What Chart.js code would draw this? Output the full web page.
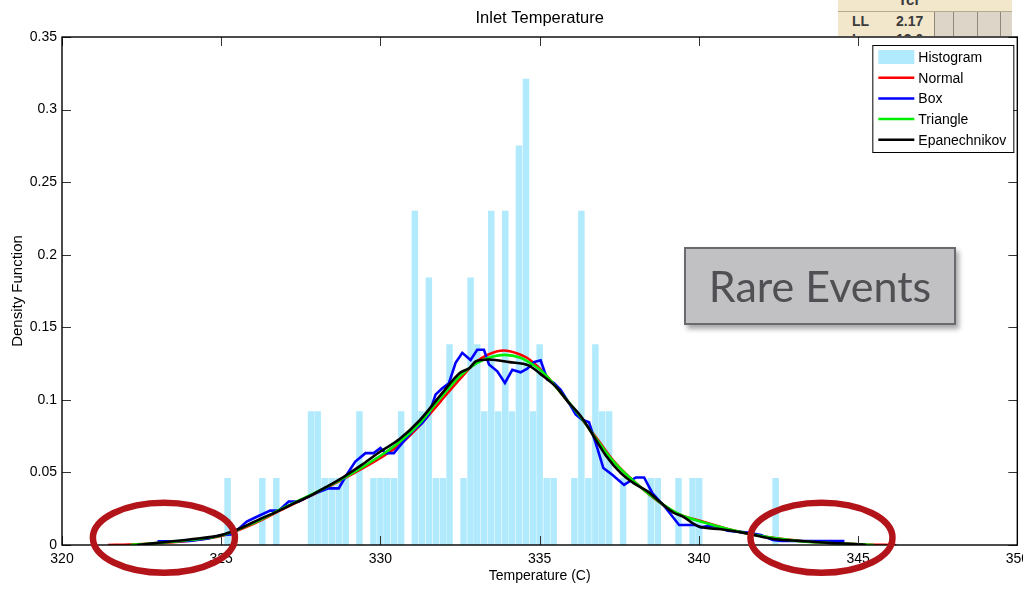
<!DOCTYPE html>
<html>
<head>
<meta charset="utf-8">
<script src="https://cdn.jsdelivr.net/npm/chart.js@4.4.0/dist/chart.umd.min.js"></script>
<style>
  html, body { margin: 0; padding: 0; background: #fff; overflow: hidden; }
  #wrap { position: relative; width: 1023px; height: 599px; overflow: hidden; }
  #chart { position: absolute; left: 0; top: 0; }
  #tbl { position: absolute; left: 838px; top: 0; width: 174px; height: 36px; overflow: hidden;
         background: #f2e6cb; font-family: 'Liberation Sans', Arial, sans-serif; color: #3a3a3a; font-weight: bold; }
  #tbl .hd { position: absolute; left: 60px; top: -9px; font-size: 15px; }
  #tbl .ln { position: absolute; left: 0; top: 11px; width: 174px; height: 1px; background: #b5aa92; }
  #tbl .cells { position: absolute; left: 96px; top: 12px; width: 78px; height: 30px; background: #ddd6c8; }
  #tbl .v { position: absolute; top: 12px; width: 1px; height: 30px; background: #8f8878; }
  #tbl .t { position: absolute; font-size: 14px; }
  #rare { position: absolute; left: 684px; top: 247px; width: 268px; height: 74px;
          background: #c1c1c3; border: 2px solid #6a6a6e; box-shadow: 3px 4px 5px rgba(0,0,0,0.35);
          font-family: Lato, 'Open Sans', sans-serif; font-size: 43px; color: #4f4f54;
          text-align: center; line-height: 74px; }
</style>
</head>
<body>
<div id="wrap">
  <canvas id="chart" width="1035" height="599"></canvas>
  <div id="tbl">
    <div class="hd">Tcl</div>
    <div class="ln"></div>
    <div class="cells"></div>
    <div class="v" style="left:96px"></div>
    <div class="v" style="left:115px"></div>
    <div class="v" style="left:139px"></div>
    <div class="v" style="left:162px"></div>
    <div class="t" style="left:14px; top:13px">LL</div>
    <div class="t" style="left:58px; top:13px">2.17</div>
    <div class="t" style="left:14px; top:31px">L</div>
    <div class="t" style="left:58px; top:31px">13.0</div>
  </div>
  <div id="rare">Rare Events</div>
</div>
<script>
// histogram bins (centres) and density heights
const binCenters = [325.20, 326.29, 326.73, 327.82, 328.03, 328.25, 328.47, 328.69, 328.91, 329.34,
  329.78, 330.00, 330.21, 330.43, 330.65, 331.08, 331.30, 331.52, 331.74, 331.96,
  332.17, 332.61, 332.83, 333.04, 333.26, 333.48, 333.70, 333.92, 334.13, 334.35,
  334.57, 334.79, 335.00, 335.22, 335.44, 336.09, 336.31, 336.53, 336.75, 336.96,
  337.18, 337.62, 338.49, 338.71, 339.36, 339.80, 340.01, 342.41];
const histDensity = [0.046, 0.046, 0.046, 0.092, 0.092, 0.046, 0.046, 0.046, 0.046, 0.092,
  0.046, 0.046, 0.046, 0.046, 0.092, 0.230, 0.092, 0.184, 0.046, 0.046,
  0.138, 0.046, 0.184, 0.138, 0.092, 0.230, 0.092, 0.230, 0.092, 0.275,
  0.321, 0.092, 0.138, 0.046, 0.046, 0.046, 0.230, 0.046, 0.138, 0.092,
  0.092, 0.046, 0.046, 0.046, 0.046, 0.046, 0.046, 0.046];

const normalX = [321.44, 322.1, 323, 324, 325, 326, 327, 328, 329, 330, 330.6, 331.26, 331.89, 332.52, 333.0,
  333.36, 333.88, 334.3, 334.6, 335.03, 335.66, 336.29, 336.71, 337.34, 337.97, 338.8, 339.43, 340.06,
  341, 342, 343, 344, 345, 346.2];
const normalY = [0, 0.0003, 0.0012, 0.003, 0.0062, 0.0145, 0.0255, 0.036, 0.0475, 0.060, 0.069, 0.083, 0.099, 0.115, 0.126,
  0.131, 0.134, 0.132, 0.129, 0.121, 0.105, 0.0875, 0.076, 0.0575, 0.0437, 0.0288, 0.0207, 0.0165,
  0.0105, 0.006, 0.0032, 0.0015, 0.0005, 0];

const boxX = [323.0, 324.0, 324.6, 325.0, 325.3, 325.45, 325.8, 326.17, 326.54, 326.8, 327.12, 327.43, 327.96,
  328.37, 328.69, 328.9, 329.21, 329.53, 329.79, 330.0, 330.16, 330.42, 330.68, 331.0, 331.31, 331.52,
  331.73, 331.94, 332.15, 332.36, 332.57, 332.83, 333.04, 333.25, 333.41, 333.67, 333.91, 334.14, 334.4,
  334.61, 334.82, 335.03, 335.24, 335.45, 335.66, 335.92, 336.13, 336.34, 336.55, 336.81, 337.0, 337.29,
  337.65, 338.02, 338.28, 338.54, 338.96, 339.38, 339.9, 340.06, 340.27, 340.59, 340.9, 341.53, 341.95,
  342.32, 342.58, 344.57];
const boxY = [0.0025, 0.0028, 0.0045, 0.0069, 0.0072, 0.0092, 0.0161, 0.020, 0.0237, 0.0237, 0.030, 0.030, 0.0357,
  0.039, 0.039, 0.047, 0.0575, 0.0633, 0.0633, 0.0668, 0.0633, 0.0633, 0.0702, 0.0783, 0.084, 0.0898,
  0.1036, 0.108, 0.1115, 0.1255, 0.1324, 0.1275, 0.1345, 0.1345, 0.1243, 0.1197, 0.1117, 0.1207, 0.119,
  0.1215, 0.126, 0.1273, 0.114, 0.1115, 0.107, 0.0979, 0.090, 0.0863, 0.0845, 0.0668, 0.053, 0.0483,
  0.0414, 0.0465, 0.0465, 0.0357, 0.0255, 0.0138, 0.0138, 0.0122, 0.0131, 0.0128, 0.0099, 0.0085, 0.0069,
  0.0035, 0.0028, 0.0028];

const triangleX = [322.14, 323, 324, 325, 326, 327, 328, 329, 330, 330.6, 331.26, 331.89, 332.52, 333.0, 333.4,
  333.9, 334.4, 334.8, 335.1, 335.7, 336.3, 336.7, 337.3, 338.0, 338.8, 339.4, 340.0, 341, 342, 343, 344, 345, 345.5];
const triangleY = [0, 0.0013, 0.0034, 0.0065, 0.015, 0.026, 0.0365, 0.048, 0.0615, 0.071, 0.0845, 0.1015, 0.117, 0.125, 0.129,
  0.131, 0.129, 0.124, 0.119, 0.104, 0.0878, 0.0755, 0.058, 0.043, 0.029, 0.021, 0.0165, 0.0105, 0.006, 0.003, 0.0015, 0.0005, 0];

const epanX = [322.35, 323, 324, 325, 325.6, 326.2, 326.75, 327.3, 327.8, 328.3, 328.85, 329.4, 330, 330.6, 331.25,
  331.9, 332.5, 332.8, 333.0, 333.4, 334.05, 334.65, 335.05, 335.5, 335.9, 336.3, 336.7, 337.1, 337.55, 337.95,
  338.4, 338.8, 339.2, 339.5, 339.85, 340.0, 340.7, 341.5, 342.4, 343.2, 344.0, 344.9, 345.25];
const epanY = [0, 0.0015, 0.0038, 0.0068, 0.0115, 0.0177, 0.023, 0.0288, 0.034, 0.040, 0.047, 0.055, 0.0644, 0.073, 0.0863,
  0.1036, 0.1186, 0.122, 0.1266, 0.1278, 0.126, 0.1238, 0.1174, 0.1093, 0.0985, 0.0886, 0.0748, 0.061, 0.0495, 0.0426,
  0.0368, 0.0292, 0.0223, 0.0196, 0.0143, 0.0127, 0.0108, 0.008, 0.004, 0.0028, 0.0016, 0.0007, 0];

const xTicks = [320, 325, 330, 335, 340, 345, 350];
const xTickLabels = ['320', '325', '330', '335', '340', '345', '350'];
const yTicks = [0, 0.05, 0.1, 0.15, 0.2, 0.25, 0.3, 0.35];
const yTickLabels = ['0', '0.05', '0.1', '0.15', '0.2', '0.25', '0.3', '0.35'];

// centres of the two "rare events" circles, in temperature units
const rareCenters = [323.2, 343.85];

const toPts = (xs, ys) => xs.map((x, i) => ({ x: x, y: ys[i] }));

Chart.defaults.font.family = "'Liberation Sans', Arial, sans-serif";
Chart.defaults.font.size = 14;
Chart.defaults.color = '#000';

const decorations = {
  id: 'decorations',
  afterDraw(chart) {
    const { ctx, chartArea: a, scales: { x, y } } = chart;
    ctx.save();

    // inward ticks on all four sides
    ctx.strokeStyle = '#333';
    ctx.lineWidth = 1;
    ctx.beginPath();
    xTicks.forEach(v => {
      const px = Math.round(x.getPixelForValue(v)) + 0.5;
      ctx.moveTo(px, a.bottom); ctx.lineTo(px, a.bottom - 9);
      ctx.moveTo(px, a.top); ctx.lineTo(px, a.top + 9);
    });
    yTicks.forEach(v => {
      const py = Math.round(y.getPixelForValue(v)) + 0.5;
      ctx.moveTo(a.left, py); ctx.lineTo(a.left + 9, py);
      ctx.moveTo(a.right, py); ctx.lineTo(a.right - 9, py);
    });
    ctx.stroke();

    // axes box
    ctx.strokeStyle = '#000';
    ctx.lineWidth = 1.4;
    ctx.strokeRect(a.left, a.top, a.right - a.left, a.bottom - a.top);

    // title
    ctx.fillStyle = '#000';
    ctx.font = "16.5px 'Liberation Sans', Arial, sans-serif";
    ctx.textAlign = 'center';
    ctx.textBaseline = 'middle';
    ctx.fillText('Inlet Temperature', (a.left + a.right) / 2, 18);

    // legend box
    const lw = 141, lh = 107;
    const lx = a.right - lw - 4, ly = a.top + 8;
    ctx.fillStyle = '#fff';
    ctx.fillRect(lx, ly, lw, lh);
    ctx.strokeStyle = '#000';
    ctx.lineWidth = 1;
    ctx.strokeRect(lx + 0.5, ly + 0.5, lw, lh);
    ctx.font = "14px 'Liberation Sans', Arial, sans-serif";
    ctx.textAlign = 'left';
    chart.data.datasets.forEach((ds, i) => {
      const cy = ly + 12 + i * 20.7;
      if (ds.type === 'line') {
        ctx.strokeStyle = ds.borderColor;
        ctx.lineWidth = 2.5;
        ctx.beginPath();
        ctx.moveTo(lx + 6, cy); ctx.lineTo(lx + 42, cy);
        ctx.stroke();
      } else {
        ctx.fillStyle = ds.backgroundColor;
        ctx.fillRect(lx + 6, cy - 7, 36, 14);
      }
      ctx.fillStyle = '#000';
      ctx.fillText(ds.label, lx + 46, cy + 1);
    });

    // rare event circles
    ctx.strokeStyle = '#b3141a';
    ctx.lineWidth = 6.5;
    const cy = y.getPixelForValue(0.005);
    rareCenters.forEach(v => {
      ctx.beginPath();
      ctx.ellipse(x.getPixelForValue(v), cy, 71, 35, 0, 0, Math.PI * 2);
      ctx.stroke();
    });
    ctx.restore();
  }
};

const lineStyle = (label, xs, ys, color, order, smooth) => ({
  type: 'line',
  label: label,
  data: toPts(xs, ys),
  borderColor: color,
  backgroundColor: color,
  borderWidth: 2.6,
  pointRadius: 0,
  fill: false,
  order: order,
  cubicInterpolationMode: smooth ? 'monotone' : 'default',
  tension: 0
});

new Chart(document.getElementById('chart'), {
  type: 'bar',
  data: {
    datasets: [
      { type: 'bar', label: 'Histogram', data: toPts(binCenters, histDensity),
        backgroundColor: 'rgb(176,234,252)', barThickness: 5.8, order: 5 },
      lineStyle('Normal', normalX, normalY, '#ff0000', 4, true),
      lineStyle('Box', boxX, boxY, '#0000ff', 3, false),
      lineStyle('Triangle', triangleX, triangleY, '#00ee00', 2, true),
      lineStyle('Epanechnikov', epanX, epanY, '#000000', 1, true)
    ]
  },
  options: {
    responsive: false,
    animation: false,
    layout: { padding: { left: 0, top: 37, right: 13, bottom: 0 } },
    plugins: { legend: { display: false }, tooltip: { enabled: false }, title: { display: false } },
    scales: {
      x: {
        type: 'linear', min: 320, max: 350, offset: false,
        grid: { display: false, drawTicks: false }, border: { display: false },
        afterBuildTicks: s => { s.ticks = xTicks.map(v => ({ value: v })); },
        afterFit: s => { s.height = 54; },
        ticks: { padding: 6, maxRotation: 0, autoSkip: false, callback: (v, i) => xTickLabels[i] },
        title: { display: true, text: 'Temperature (C)', font: { size: 14 }, padding: { top: 4, bottom: 14 } }
      },
      y: {
        type: 'linear', min: 0, max: 0.35,
        grid: { display: false, drawTicks: false }, border: { display: false },
        afterBuildTicks: s => { s.ticks = yTicks.map(v => ({ value: v })); },
        afterFit: s => { s.width = 62; },
        ticks: { padding: 5, autoSkip: false, callback: (v, i) => yTickLabels[i] },
        title: { display: true, text: 'Density Function', font: { size: 15 }, padding: { top: 9, bottom: 4 } }
      }
    }
  },
  plugins: [decorations]
});
</script>
</body>
</html>
